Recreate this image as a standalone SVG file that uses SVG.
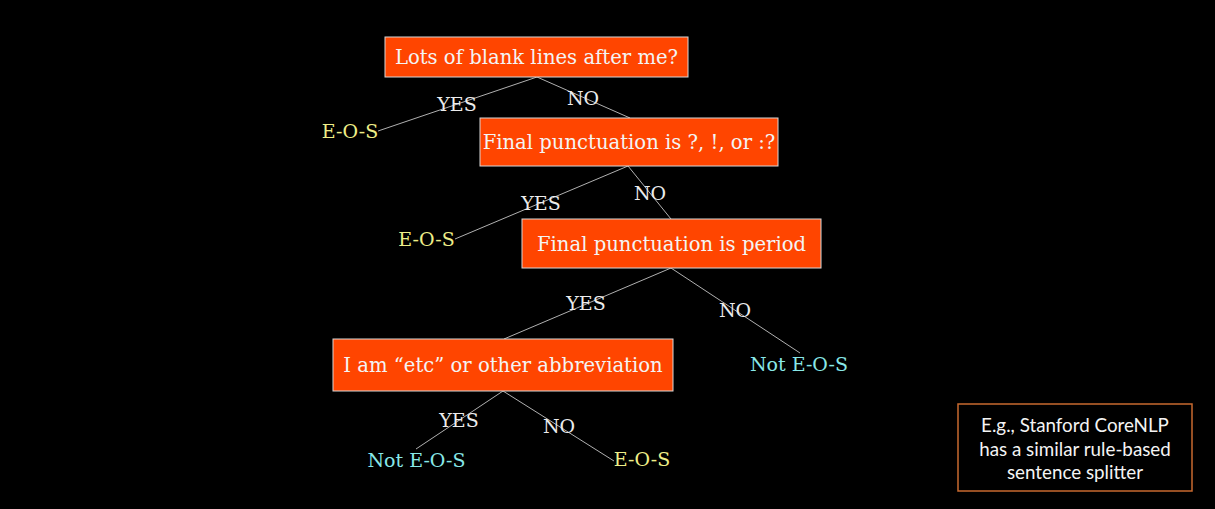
<svg xmlns="http://www.w3.org/2000/svg" width="1215" height="509" viewBox="0 0 1215 509">
<style>
.box{fill:#ff4500;stroke:#d8d8d8;stroke-width:1}
.bt{font-family:"DejaVu Serif",serif;font-size:19.6px;fill:#f4f4f4;text-anchor:middle}
.lbl{font-family:"DejaVu Serif",serif;font-size:19px;fill:#ececec;text-anchor:middle}
.eos{font-family:"DejaVu Serif",serif;font-size:19px;fill:#eeee88;text-anchor:middle}
.not{font-family:"DejaVu Serif",serif;font-size:19px;fill:#88e8e8;text-anchor:middle}
.ln{stroke:#b0b0b0;stroke-width:1;fill:none}
.note{fill:#000;stroke:#c8692f;stroke-width:1.5}
.nt{font-family:Lato,"Open Sans",sans-serif;font-size:18.8px;fill:#f4f4f4;text-anchor:middle}
</style>
<rect width="1215" height="509" fill="#000"/>
<g id="connectors">
<line class="ln" x1="537" y1="77" x2="378" y2="131"/>
<line class="ln" x1="537" y1="77" x2="630" y2="118"/>
<line class="ln" x1="628" y1="166" x2="455" y2="239"/>
<line class="ln" x1="628" y1="166" x2="671" y2="219"/>
<line class="ln" x1="671" y1="268" x2="504" y2="339"/>
<line class="ln" x1="671" y1="268" x2="800" y2="353"/>
<line class="ln" x1="503" y1="391" x2="416" y2="449"/>
<line class="ln" x1="503" y1="391" x2="614" y2="461"/>
</g>
<g id="labels">
<text class="lbl" x="457" y="111">YES</text>
<text class="lbl" x="583" y="105">NO</text>
<text class="lbl" x="541" y="210">YES</text>
<text class="lbl" x="650" y="200">NO</text>
<text class="lbl" x="586" y="310">YES</text>
<text class="lbl" x="735" y="317">NO</text>
<text class="lbl" x="459" y="427">YES</text>
<text class="lbl" x="559" y="433">NO</text>
</g>
<g id="n1"><rect class="box" x="385" y="37" width="303" height="40"/><text class="bt" x="536.5" y="64">Lots of blank lines after me?</text></g>
<g id="n2"><rect class="box" x="480" y="118" width="298" height="48"/><text class="bt" x="629" y="149">Final punctuation is ?, !, or :?</text></g>
<g id="n3"><rect class="box" x="522" y="219" width="299" height="49"/><text class="bt" x="671.5" y="250.500">Final punctuation is period</text></g>
<g id="n4"><rect class="box" x="333" y="339" width="340" height="52"/><text class="bt" x="503" y="372">I am “etc” or other abbreviation</text></g>
<g id="eos1"><text class="eos" x="350" y="138">E-O-S</text></g>
<g id="eos2"><text class="eos" x="426.500" y="246">E-O-S</text></g>
<g id="noteos1"><text class="not" x="799" y="371">Not E-O-S</text></g>
<g id="noteos2"><text class="not" x="416.500" y="467">Not E-O-S</text></g>
<g id="eos3"><text class="eos" x="642" y="466">E-O-S</text></g>
<g id="note"><rect class="note" x="958" y="404" width="234" height="87"/>
<text class="nt" x="1075" y="432">E.g., Stanford CoreNLP</text>
<text class="nt" x="1075" y="455.500">has a similar rule-based</text>
<text class="nt" x="1075" y="479">sentence splitter</text></g>
</svg>
